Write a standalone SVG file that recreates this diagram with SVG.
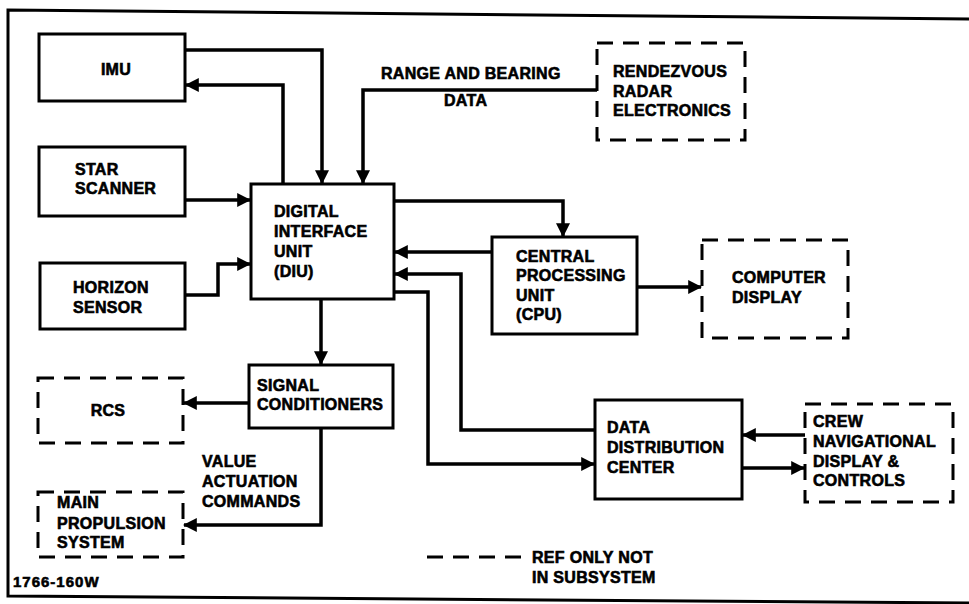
<svg xmlns="http://www.w3.org/2000/svg" width="969" height="604" viewBox="0 0 969 604">
<style>
text{font-family:"Liberation Sans",Arial,sans-serif;font-weight:bold;font-size:16px;fill:#000;stroke:#000;stroke-width:0.6px;letter-spacing:0.3px}
.box{fill:#fff;stroke:#000;stroke-width:3}
.dbox{fill:none;stroke:#000;stroke-width:3;stroke-dasharray:16,10}
.ca{fill:none;stroke:#000;stroke-width:3.5;marker-end:url(#ah)}
</style>
<defs>
<marker id="ah" markerUnits="userSpaceOnUse" markerWidth="14" markerHeight="14" viewBox="0 0 12 12" refX="11" refY="6" orient="auto">
<path d="M0,0 L12,6 L0,12 z" fill="#000"/>
</marker>
</defs>
<rect width="969" height="604" fill="#fff"/>
<path d="M969,19 L8,10 L8,596 L969,603" fill="none" stroke="#000" stroke-width="3"/>

<g id="connectors">
<path class="ca" d="M185,50 H322 V183"/>
<path class="ca" d="M283,184 V85 H186"/>
<path class="ca" d="M597,90 H363 V183"/>
<path class="ca" d="M185,200 H250"/>
<path class="ca" d="M185,295 H218 V264 H250"/>
<path class="ca" d="M394,201 H563 V236"/>
<path class="ca" d="M492,252 H395"/>
<path class="ca" d="M595,430 H461 V274 H395"/>
<path class="ca" d="M394,292 H428 V464 H594"/>
<path class="ca" d="M637,287 H701"/>
<path class="ca" d="M805,435 H743"/>
<path class="ca" d="M742,468 H804"/>
<path class="ca" d="M321,299 V364"/>
<path class="ca" d="M249,403 H184"/>
<path class="ca" d="M321,428 V525 H184"/>
</g>

<g id="imu"><rect class="box" x="39" y="34" width="146" height="67"/><text x="116" y="75" text-anchor="middle">IMU</text></g>
<g id="star-scanner"><rect class="box" x="39" y="147" width="146" height="69"/><text x="75" y="175">STAR</text><text x="75" y="194">SCANNER</text></g>
<g id="horizon-sensor"><rect class="box" x="40" y="263" width="145" height="66"/><text x="73" y="293">HORIZON</text><text x="73" y="313">SENSOR</text></g>
<g id="diu"><rect class="box" x="251" y="184" width="143" height="115"/><text x="274" y="217">DIGITAL</text><text x="274" y="237">INTERFACE</text><text x="274" y="257">UNIT</text><text x="274" y="277">(DIU)</text></g>
<g id="radar"><rect class="dbox" x="597" y="43" width="148" height="97"/><text x="613" y="77">RENDEZVOUS</text><text x="613" y="97">RADAR</text><text x="613" y="116">ELECTRONICS</text></g>
<g id="range-label"><text x="381" y="79">RANGE AND BEARING</text><text x="444" y="106">DATA</text></g>
<g id="cpu"><rect class="box" x="492" y="237" width="145" height="97"/><text x="516" y="262">CENTRAL</text><text x="516" y="281">PROCESSING</text><text x="516" y="301">UNIT</text><text x="516" y="320">(CPU)</text></g>
<g id="computer-display"><rect class="dbox" x="702" y="240" width="146" height="98"/><text x="732" y="283">COMPUTER</text><text x="732" y="303">DISPLAY</text></g>
<g id="signal-conditioners"><rect class="box" x="249" y="365" width="144" height="63"/><text x="257" y="391">SIGNAL</text><text x="257" y="410">CONDITIONERS</text></g>
<g id="rcs"><rect class="dbox" x="38" y="378" width="145" height="65"/><text x="108" y="416" text-anchor="middle">RCS</text></g>
<g id="main-propulsion"><rect class="dbox" x="38" y="492" width="145" height="65"/><text x="57" y="508">MAIN</text><text x="57" y="529">PROPULSION</text><text x="57" y="548">SYSTEM</text></g>
<g id="value-label"><text x="202" y="467">VALUE</text><text x="202" y="487">ACTUATION</text><text x="202" y="507">COMMANDS</text></g>
<g id="ddc"><rect class="box" x="595" y="400" width="147" height="99"/><text x="607" y="433">DATA</text><text x="607" y="453">DISTRIBUTION</text><text x="607" y="473">CENTER</text></g>
<g id="crew"><rect class="dbox" x="805" y="404" width="148" height="98"/><text x="813" y="427">CREW</text><text x="813" y="447">NAVIGATIONAL</text><text x="813" y="467">DISPLAY &amp;</text><text x="813" y="486">CONTROLS</text></g>
<g id="legend"><line x1="427" y1="557" x2="522" y2="557" stroke="#000" stroke-width="3" stroke-dasharray="16,10"/><text x="532" y="563">REF ONLY NOT</text><text x="532" y="583">IN SUBSYSTEM</text></g>
<text x="13" y="587" style="font-size:15px;letter-spacing:1px">1766-160W</text>
</svg>
